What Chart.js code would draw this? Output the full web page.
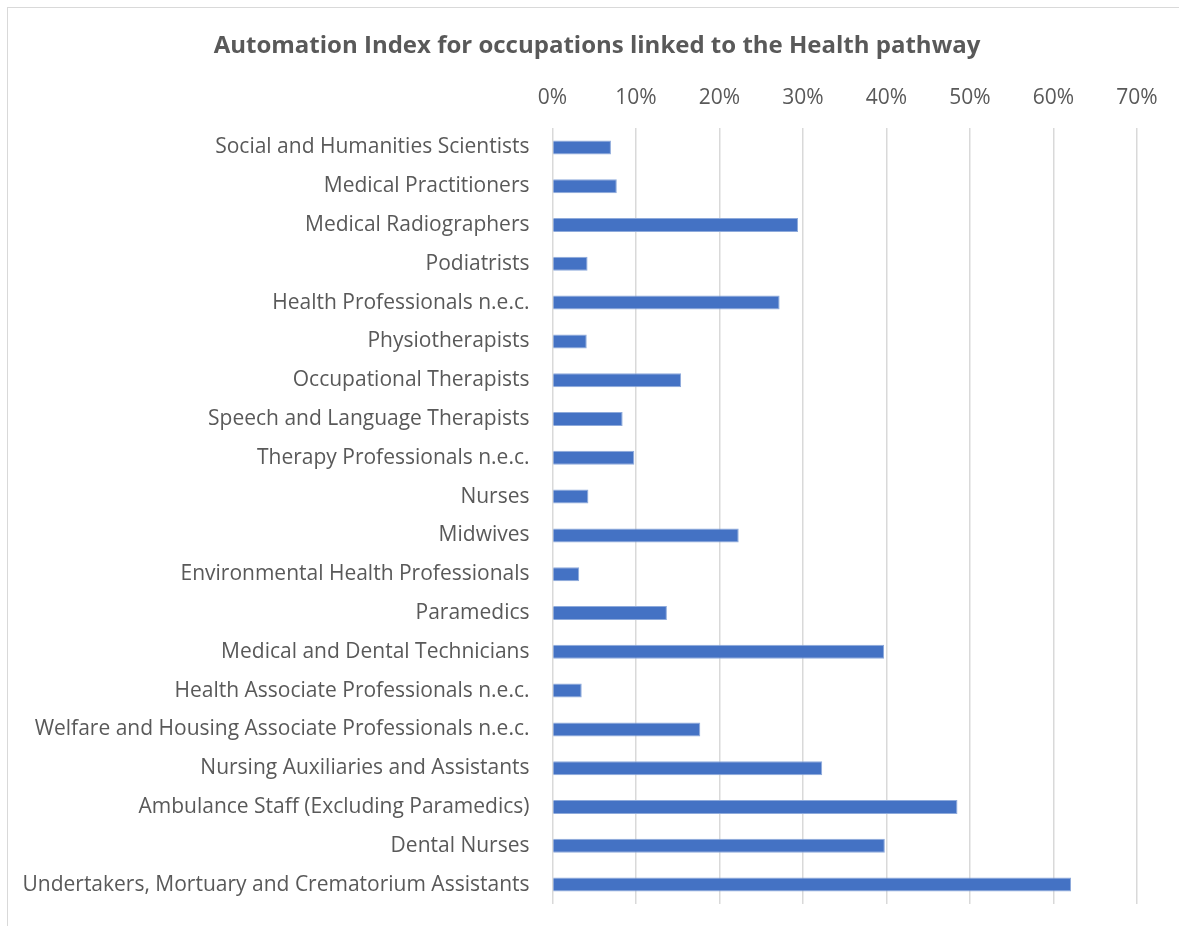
<!DOCTYPE html>
<html>
<head>
<meta charset="utf-8">
<script src="https://cdn.jsdelivr.net/npm/chart.js@4/dist/chart.umd.min.js"></script>
<style>
  html, body { margin: 0; padding: 0; background: #ffffff; overflow: hidden; }
  #frame { position: absolute; left: 7px; top: 7px; width: 1300px; height: 1000px;
           border-left: 1.5px solid #d9d9d9; border-top: 1.5px solid #d9d9d9; }
  #c { position: absolute; left: 0; top: 0; }
</style>
</head>
<body>
<div id="frame"></div>
<canvas id="c" width="1179" height="926"></canvas>
<script>
const titleText = 'Automation Index for occupations linked to the Health pathway';
const categories = [
  'Social and Humanities Scientists',
  'Medical Practitioners',
  'Medical Radiographers',
  'Podiatrists',
  'Health Professionals n.e.c.',
  'Physiotherapists',
  'Occupational Therapists',
  'Speech and Language Therapists',
  'Therapy Professionals n.e.c.',
  'Nurses',
  'Midwives',
  'Environmental Health Professionals',
  'Paramedics',
  'Medical and Dental Technicians',
  'Health Associate Professionals n.e.c.',
  'Welfare and Housing Associate Professionals n.e.c.',
  'Nursing Auxiliaries and Assistants',
  'Ambulance Staff (Excluding Paramedics)',
  'Dental Nurses',
  'Undertakers, Mortuary and Crematorium Assistants'
];
const automationIndex = [7.0, 7.7, 29.4, 4.2, 27.2, 4.1, 15.4, 8.4, 9.8, 4.3,
                         22.3, 3.2, 13.7, 39.7, 3.5, 17.7, 32.3, 48.5, 39.8, 62.1];
const axisMin = 0;
const axisMax = 70;
const axisStep = 10;

const textColor = '#595959';
const gridColor = '#d9d9d9';
const fontFamily = '"Open Sans", "Noto Sans", sans-serif';

function build() {
  new Chart(document.getElementById('c'), {
    type: 'bar',
    data: {
      labels: categories,
      datasets: [{
        data: automationIndex,
        backgroundColor: '#4472C4',
        borderColor: '#8eaadb',
        borderWidth: 1,
        barPercentage: 0.36,
        categoryPercentage: 1.0
      }]
    },
    options: {
      indexAxis: 'y',
      responsive: false,
      animation: false,
      layout: { padding: { left: 15, right: 0, top: 0, bottom: 22 } },
      plugins: {
        legend: { display: false },
        tooltip: { enabled: false },
        title: {
          display: true,
          text: titleText,
          color: textColor,
          font: { family: fontFamily, size: 24, weight: 'bold', lineHeight: 1.2 },
          padding: { top: 32, bottom: 8 }
        }
      },
      scales: {
        x: {
          position: 'top',
          min: axisMin,
          max: axisMax,
          grid: { color: gridColor, lineWidth: 1.5, drawTicks: false },
          border: { display: false },
          ticks: {
            stepSize: axisStep,
            color: textColor,
            padding: 17,
            font: { family: fontFamily, size: 21 },
            callback: v => v + '%'
          },
          afterFit: s => { s.height = 59.2; s.paddingRight = 42; }
        },
        y: {
          grid: { display: false, drawTicks: false },
          border: { display: false },
          ticks: {
            color: textColor,
            padding: 23,
            autoSkip: false,
            font: { family: fontFamily, size: 21 }
          },
          afterFit: s => { s.width = 537.5; s.paddingTop = 0; s.paddingBottom = 0; }
        }
      }
    }
  });
}
if (document.fonts && document.fonts.load) {
  Promise.all([
    document.fonts.load('21px "Open Sans"'),
    document.fonts.load('bold 24px "Open Sans"')
  ]).then(build, build);
} else { build(); }
</script>
</body>
</html>
